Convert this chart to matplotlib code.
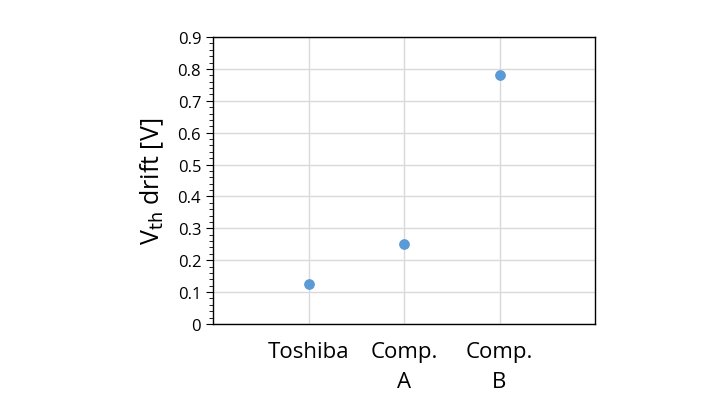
import matplotlib
matplotlib.use("Agg")
import matplotlib.pyplot as plt
import numpy as np
from matplotlib.ticker import MultipleLocator

categories = ["Toshiba", "Comp.\nA", "Comp.\nB"]
values = [0.125, 0.25, 0.78]
yticks = [0, 0.1, 0.2, 0.3, 0.4, 0.5, 0.6, 0.7, 0.8, 0.9]
ytick_labels = ["0", "0.1", "0.2", "0.3", "0.4", "0.5", "0.6", "0.7", "0.8", "0.9"]

plt.rcParams['font.family'] = ['Open Sans', 'DejaVu Sans']
fig = plt.figure(figsize=(7.2, 4.1), dpi=100)
ax = fig.add_axes([213/720, 1-325/410, 382/720, 287/410])
x = np.arange(1, len(categories)+1)
ax.scatter(x, values, s=45, color='#5b9bd5', zorder=3)
ax.set_xlim(0, 4)
ax.set_ylim(0, 0.9)
ax.set_xticks(x)
ax.set_xticklabels(categories, fontsize=16, linespacing=1.6, va='top')
ax.set_yticks(yticks)
ax.set_yticklabels(ytick_labels, fontsize=12)
ax.yaxis.set_minor_locator(MultipleLocator(0.02))
ax.grid(True, color='#d9d9d9', linewidth=1, zorder=0)
ax.tick_params(axis='x', length=0, pad=12)
ax.tick_params(axis='y', which='major', length=5, direction='out', color='black')
ax.tick_params(axis='y', which='minor', length=3, direction='out', color='black')
for s in ax.spines.values():
    s.set_color('black'); s.set_linewidth(1)
ax.set_ylabel(r"V$_{\mathrm{th}}$ drift [V]", fontsize=18, labelpad=8)
fig.savefig("out.png", dpi=100)
